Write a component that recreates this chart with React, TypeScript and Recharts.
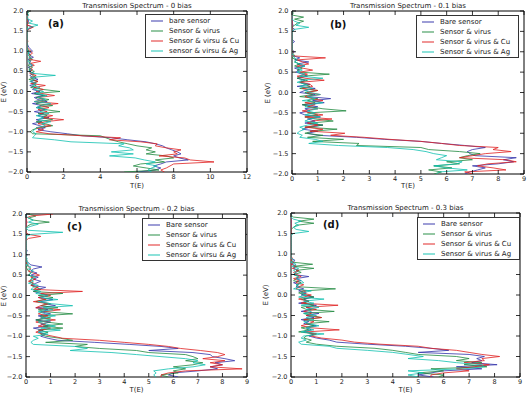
import React from 'react';
import { ScatterChart, Scatter, XAxis, YAxis, ReferenceArea } from 'recharts';

const energies = [
  2.0, 1.95, 1.9, 1.85, 1.8, 1.75, 1.7, 1.65, 1.6, 1.55,
  1.5, 1.45, 1.4, 1.35, 1.3, 1.25, 1.2, 1.15, 1.1, 1.05,
  1.0, 0.95, 0.9, 0.85, 0.8, 0.75, 0.7, 0.65, 0.6, 0.55,
  0.5, 0.45, 0.4, 0.35, 0.3, 0.25, 0.2, 0.15, 0.1, 0.05,
  0.0, -0.05, -0.1, -0.15, -0.2, -0.25, -0.3, -0.35, -0.4, -0.45,
  -0.5, -0.55, -0.6, -0.65, -0.7, -0.75, -0.8, -0.85, -0.9, -0.95,
  -1.0, -1.05, -1.1, -1.15, -1.2, -1.25, -1.3, -1.35, -1.4, -1.45,
  -1.5, -1.55, -1.6, -1.65, -1.7, -1.75, -1.8, -1.85, -1.9, -1.95,
  -2.0,
];

const energyTicks = [-2.0, -1.5, -1.0, -0.5, 0.0, 0.5, 1.0, 1.5, 2.0];
const tTicksA = [0, 2, 4, 6, 8, 10, 12];
const tTicksBCD = [0, 1, 2, 3, 4, 5, 6, 7, 8, 9];

// ---- Panel (a): 0 bias ----
const bareA = [
  0.05, 0, 0, 0, 0.05, 0.1, 0, 0, 0.3, 0.05,
  0, 0, 0, 0, 0, 0, 0, 0.05, 0.1, 0.2,
  0.3, 0.1, 0.15, 0.35, 0.05, 0.2, 0.1, 0.3, 0.05, 0.25,
  0.1, 0.4, 0.15, 0.3, 0.6, 0.2, 0.5, 0.15, 0.45, 0.3,
  0.7, 0.25, 0.9, 0.4, 0.6, 1.1, 0.3, 0.8, 0.5, 1.0,
  0.4, 0.9, 0.6, 1.2, 0.5, 0.8, 0.3, 0.7, 1.0, 0.6,
  1.3, 2.2, 3.0, 4.6, 5.5, 6.5, 7.0, 7.4, 7.6, 7.9,
  8.2, 8.4, 8.0, 8.3, 8.8, 7.6, 7.3, 6.9, 7.3, 7.0,
  6.0,
];
const virusA = [
  0.15, 0.05, 0, 0, 0, 0, 0, 0, 0, 0,
  0, 0, 0, 0, 0, 0, 0, 0, 0, 0.05,
  0.1, 0.05, 0.2, 0.1, 0.3, 0.1, 0.2, 0.05, 0.3, 0.1,
  0.4, 0.2, 0.3, 0.5, 0.1, 0.6, 0.3, 0.5, 0.2, 0.9,
  1.8, 0.4, 1.0, 0.5, 1.2, 0.8, 0.5, 1.4, 0.6, 1.0,
  1.8, 0.6, 1.1, 0.8, 1.4, 0.5, 1.0, 1.4, 0.7, 0.3,
  0.2, 0.3, 4.0, 4.3, 4.6, 5.0, 5.5, 6.0, 6.8, 6.5,
  7.0, 6.5, 7.6, 8.0, 7.0, 7.5, 6.2, 5.8, 6.5, 7.2,
  5.3,
];
const cuA = [
  0, 0, 0, 0.05, 0, 0, 0.1, 0, 0.35, 0.1,
  0, 0, 0, 0, 0, 0.05, 0, 0, 0, 0.1,
  0.2, 0.3, 0.1, 0.2, 0.1, 0.75, 0.2, 0.4, 0.1, 0.3,
  0.2, 0.15, 0.5, 0.2, 0.3, 0.6, 0.2, 1.0, 0.4, 0.9,
  0.5, 0.8, 1.5, 0.6, 0.9, 0.4, 1.7, 0.7, 1.2, 0.6,
  1.1, 0.7, 1.4, 0.9, 2.0, 1.0, 0.6, 1.3, 0.5, 0.9,
  0.5, 1.2, 3.0, 5.1, 4.5, 6.2, 7.1, 7.0, 7.6, 8.4,
  8.0, 8.2, 7.2, 8.6, 8.9, 10.2, 8.0, 7.8, 7.6, 7.3,
  7.5,
];
const agA = [
  0.05, 0, 0.1, 0, 0.05, 0.3, 0.1, 0.6, 0.2, 0,
  0, 0, 0, 0, 0, 0, 0, 0, 0, 0,
  0.05, 0.1, 0.05, 0.2, 0.1, 0.05, 0.15, 0.3, 0.1, 0.2,
  0.1, 0.3, 1.55, 0.2, 0.4, 0.15, 0.5, 0.3, 0.7, 0.4,
  0.9, 0.5, 1.1, 0.6, 1.0, 0.4, 1.3, 0.8, 0.5, 1.1,
  0.7, 1.2, 0.5, 0.9, 0.6, 1.3, 0.8, 1.0, 0.5, 0.4,
  0.3, 0.5, 0.4, 0.3, 1.5, 2.4, 5.3, 5.0, 5.6, 5.8,
  4.6, 5.8, 4.5, 5.9, 6.4, 7.0, 6.5, 7.1, 6.8, 6.6,
  6.8,
];

// ---- Panel (b): 0.1 bias ----
const bareB = [
  0, 0, 0, 0, 0, 0, 0, 0.05, 0, 0.1,
  0, 0, 0, 0, 0, 0.1, 0, 0, 0, 0,
  0.1, 0, 0.05, 0.3, 0.1, 0.65, 0.2, 0.5, 0.1, 0.3,
  0.15, 0.4, 0.6, 0.2, 0.5, 0.3, 0.7, 0.2, 0.9, 0.5,
  0.3, 0.9, 0.6, 1.5, 0.8, 1.25, 0.4, 1.0, 0.5, 0.7,
  0.3, 0.5, 1.1, 0.6, 0.9, 0.5, 1.2, 0.7, 0.4, 1.0,
  0.6, 1.0, 2.5, 3.6, 5.0, 5.8, 6.7, 7.5, 7.0, 6.8,
  6.9, 7.1, 8.7, 8.2, 8.6, 8.0, 7.0, 7.5, 7.2, 6.9,
  6.7,
];
const virusB = [
  0, 0.05, 0, 0.45, 0.1, 0.45, 0.2, 0.1, 0, 0,
  0, 0, 0, 0, 0, 0, 0, 0, 0, 0,
  0, 0.05, 0.1, 0, 0.2, 0.1, 0.3, 0.1, 0.4, 0.2,
  0.3, 1.45, 0.4, 0.2, 0.6, 0.3, 0.5, 0.7, 0.3, 1.0,
  0.5, 0.8, 0.3, 1.0, 0.6, 0.9, 0.4, 0.7, 1.2, 2.1,
  0.6, 1.0, 0.5, 0.9, 1.6, 0.7, 1.2, 0.5, 1.75, 0.8,
  0.5, 1.2, 0.6, 2.0, 0.8, 2.6, 2.5, 5.0, 5.3, 6.5,
  7.3, 6.8, 6.5, 7.0, 6.0, 6.5, 5.5, 6.2, 5.3, 5.8,
  5.5,
];
const cuB = [
  0, 0, 0, 0, 0, 0, 0, 0, 0, 0,
  0, 0, 0, 0, 0, 0, 0, 0, 0, 0,
  0.05, 0, 0, 1.3, 0.2, 0.4, 0.65, 0.2, 0.4, 0.8,
  0.3, 0.6, 0.2, 0.5, 1.25, 0.3, 0.7, 0.8, 0.4, 1.0,
  0.6, 1.1, 0.5, 0.8, 1.2, 0.5, 0.9, 0.6, 1.0, 0.4,
  0.7, 1.2, 0.5, 1.55, 0.8, 0.6, 1.0, 0.5, 1.2, 0.7,
  2.05, 1.5, 2.8, 3.8, 5.0, 5.8, 6.5, 8.0, 7.8, 8.5,
  7.5, 7.0, 6.5, 8.3, 8.7, 7.6, 7.2, 7.8, 8.3, 6.7,
  7.0,
];
const agB = [
  0, 0, 0, 0, 0, 0.1, 0.3, 0.15, 0.65, 0.1,
  0, 0, 0, 0, 0, 0, 0, 0, 0, 0,
  0, 0, 0.05, 0.1, 0.2, 0.1, 0.3, 0.5, 0.2, 0.4,
  0.2, 0.5, 0.3, 1.2, 0.4, 0.2, 0.6, 0.3, 0.8, 0.5,
  0.7, 1.1, 0.6, 0.9, 0.4, 1.2, 0.7, 0.5, 1.0, 0.6,
  0.9, 0.5, 1.1, 0.7, 0.5, 1.0, 0.6, 0.3, 0.5, 0.3,
  0.2, 0.4, 0.3, 0.9, 1.2, 0.65, 1.8, 3.7, 4.7, 5.2,
  5.5, 6.0, 5.8, 5.6, 6.6, 6.4, 5.5, 6.0, 6.8, 5.7,
  5.6,
];

// ---- Panel (c): 0.2 bias ----
const bareC = [
  0, 0, 0, 0, 0, 0, 0, 0, 0, 0,
  0, 0, 0, 0, 0, 0, 0, 0, 0.05, 0,
  0.05, 0, 0, 0, 0.1, 0.2, 0.65, 0.3, 0.2, 0.45,
  0.2, 0.5, 0.3, 0.6, 0.4, 0.2, 0.8, 0.5, 0.3, 0.6,
  0.9, 0.5, 1.1, 0.6, 0.8, 1.2, 0.4, 0.9, 0.6, 1.0,
  0.5, 0.8, 0.4, 1.0, 0.6, 0.9, 0.3, 0.7, 0.5, 0.8,
  0.6, 0.9, 1.3, 2.8, 4.2, 5.5, 6.2, 5.0, 6.8, 7.5,
  7.6, 8.1, 8.5, 7.7, 8.0, 7.5, 7.8, 7.0, 6.0, 5.8,
  6.2,
];
const virusC = [
  0.1, 0.4, 0.1, 0.3, 0.95, 0.2, 0.05, 0, 0, 0,
  0, 0, 0, 0, 0, 0, 0, 0, 0, 0,
  0, 0, 0, 0.05, 0, 0.1, 0, 0.05, 0.1, 0.2,
  0.1, 0.3, 0.2, 0.15, 0.3, 0.2, 0.4, 0.6, 0.3, 1.5,
  0.5, 1.1, 0.7, 0.4, 1.0, 0.6, 1.3, 0.5, 0.8, 1.9,
  0.6, 1.0, 0.4, 0.8, 1.5, 0.7, 1.5, 0.5, 0.9, 0.6,
  0.8, 1.4, 1.9, 0.8, 2.5, 2.0, 3.0, 4.5, 5.0, 6.5,
  6.8, 7.0, 6.5, 7.2, 6.8, 6.0, 6.5, 6.0, 6.2, 5.5,
  5.8,
];
const cuC = [
  1.1, 0.2, 0, 0, 0.05, 0, 0, 0, 0, 0,
  0.1, 0.6, 0.1, 0, 0, 0, 0, 0, 0, 0,
  0, 0, 0, 0, 0, 0.05, 0.1, 0.2, 0.1, 0.3,
  0.55, 0.2, 0.4, 0.1, 0.3, 0.2, 0.5, 0.3, 2.3, 0.6,
  1.0, 0.5, 0.8, 0.3, 0.9, 0.6, 0.4, 1.4, 0.7, 0.5,
  0.9, 0.6, 1.2, 0.4, 0.8, 0.5, 1.0, 0.6, 0.4, 0.7,
  1.1, 1.5, 3.0, 4.0, 5.0, 5.8, 6.3, 7.1, 7.8, 8.1,
  7.8, 7.2, 8.1, 7.5, 8.0, 7.5, 8.8, 6.5, 5.8, 5.5,
  5.5,
];
const agC = [
  0, 0, 0.1, 0.3, 0.1, 0.5, 0.2, 0, 0.1, 1.5,
  0.2, 0, 0, 0, 0, 0, 0, 0, 0, 0,
  0, 0, 0.05, 0, 0.1, 0, 0.2, 0.1, 0.3, 0.2,
  0.1, 0.4, 0.2, 0.3, 0.1, 0.5, 0.3, 0.2, 0.6, 0.4,
  0.9, 0.6, 1.3, 0.5, 1.0, 1.9, 0.7, 1.1, 0.5, 0.8,
  1.2, 0.6, 1.0, 0.5, 0.8, 1.2, 0.6, 1.4, 0.5, 0.9,
  0.3, 0.5, 0.3, 0.2, 0.3, 2.0, 2.5, 1.8, 3.5, 4.5,
  5.5, 6.5, 7.0, 6.8, 7.3, 6.8, 5.8, 5.2, 5.3, 5.2,
  5.3,
];

// ---- Panel (d): 0.3 bias ----
const bareD = [
  0.05, 0, 0, 0, 0, 0, 0, 0, 0, 0,
  0, 0, 0, 0, 0, 0, 0, 0, 0, 0,
  0, 0, 0, 0.15, 0.1, 0.05, 0.2, 0.1, 0.3, 0.2,
  0.1, 0.7, 0.2, 0.4, 0.1, 0.3, 0.2, 0.5, 0.3, 0.6,
  0.4, 0.9, 0.5, 0.7, 0.3, 1.0, 0.6, 0.8, 0.4, 1.1,
  0.6, 0.9, 0.4, 0.7, 0.5, 1.0, 0.6, 0.8, 0.5, 0.9,
  0.7, 1.0, 1.5, 1.8, 3.0, 4.5, 5.5, 6.2, 5.0, 7.0,
  7.6, 7.3, 7.5, 7.1, 8.1, 6.5, 7.5, 6.0, 5.5, 5.0,
  5.6,
];
const virusD = [
  0, 0, 0.1, 0.9, 0.3, 0.9, 0.2, 0.1, 0, 0,
  0, 0, 0, 0, 0, 0, 0, 0, 0, 0,
  0, 0, 0, 0, 0.05, 0.85, 0.1, 0.9, 0.2, 0.4,
  0.1, 0.3, 0.2, 0.1, 0.4, 0.2, 0.3, 1.75, 0.5, 0.3,
  0.6, 0.9, 0.4, 0.7, 0.5, 0.9, 0.4, 0.6, 1.7, 0.5,
  0.8, 1.2, 0.5, 1.5, 0.6, 0.9, 0.4, 0.7, 0.3, 1.0,
  0.6, 0.5, 0.8, 0.6, 1.0, 1.8, 3.3, 4.0, 4.5, 5.0,
  6.5, 7.0, 6.5, 7.5, 6.8, 7.7, 5.5, 6.0, 5.0, 6.0,
  5.8,
];
const cuD = [
  0, 0, 0, 0, 0, 0, 0, 0, 0, 0,
  0, 0, 0, 0, 0, 0, 0, 0, 0, 0,
  0, 0, 0.05, 0, 0.1, 0, 0.2, 0.05, 0.3, 0.1,
  0.2, 0.4, 0.1, 0.3, 0.2, 0.5, 0.3, 0.2, 0.6, 0.4,
  0.8, 0.5, 0.3, 0.7, 0.4, 1.85, 0.6, 1.0, 0.5, 0.8,
  0.6, 1.2, 0.5, 0.9, 0.7, 0.4, 0.8, 1.9, 0.6, 1.0,
  0.8, 1.2, 2.0, 2.5, 3.5, 5.0, 5.5, 6.5, 7.0, 7.5,
  8.2, 7.5, 7.6, 6.8, 7.8, 7.2, 6.5, 7.0, 6.0, 5.5,
  5.5,
];
const agD = [
  0, 0, 0, 0.1, 0.4, 0.15, 0.3, 0.1, 0.2, 0.7,
  0.1, 0, 0, 0, 0, 0, 0, 0, 0, 0,
  0, 0, 0, 0.1, 0, 0.2, 0.05, 0.3, 0.1, 0.2,
  0.1, 0.3, 0.2, 0.4, 0.5, 0.2, 0.3, 0.1, 0.8, 0.4,
  0.6, 0.3, 1.3, 0.5, 0.9, 0.4, 1.1, 0.6, 0.8, 0.5,
  1.0, 0.6, 0.9, 0.5, 0.7, 1.1, 0.6, 0.9, 0.4, 1.3,
  0.5, 0.4, 0.6, 0.3, 0.4, 1.5, 1.8, 3.0, 4.0, 4.6,
  5.2, 4.6, 5.8, 6.5, 7.5, 7.6, 6.8, 4.6, 5.2, 4.6,
  5.0,
];

const legendA = ['bare sensor', 'Sensor & virus', 'Sensor & virsu & Cu', 'sensor & virsu & Ag'];
const legendB = ['Bare sensor', 'Sensor & virus', 'Sensor & virus & Cu', 'Sensor & virus & Ag'];
const legendC = ['Bare sensor', 'Sensor & virus', 'Sensor & virus & Cu', 'Sensor & virsu & Ag'];
const legendD = ['Bare sensor', 'Sensor & virus', 'Sensor & virus & Cu', 'Sensor & virus & Ag'];

const titles = [
  'Transmission Spectrum - 0 bias',
  'Transmission Spectrum - 0.1 bias',
  'Transmission Spectrum - 0.2 bias',
  'Transmission Spectrum - 0.3 bias',
];
const letters = ['(a)', '(b)', '(c)', '(d)'];

const COLORS = ['#3333aa', '#208a40', '#e02020', '#10c0b0'];
const FONT = '"DejaVu Sans", "Liberation Sans", sans-serif';

const PAD_L = 30;
const PAD_T = 5;
const PAD_R = 5;
const PAD_B = 16;

type Box = { x0: number; y0: number; x1: number; y1: number };

function fmtE(v: number) {
  return v.toFixed(1).replace('-', '\u2212');
}

function XTick(props: any) {
  const { x, payload, top, bottom } = props;
  return (
    <g>
      <line x1={x} x2={x} y1={bottom} y2={bottom - 4} stroke="#000" strokeWidth={0.8} />
      <line x1={x} x2={x} y1={top} y2={top + 4} stroke="#000" strokeWidth={0.8} />
      <text x={x} y={bottom + 5} textAnchor="middle" dominantBaseline="central" fontSize={6.5} fill="#222" fontFamily={FONT}>
        {payload.value}
      </text>
    </g>
  );
}

function YTick(props: any) {
  const { y, payload, left, right } = props;
  return (
    <g>
      <line x1={left} x2={left + 4} y1={y} y2={y} stroke="#000" strokeWidth={0.8} />
      <line x1={right} x2={right - 4} y1={y} y2={y} stroke="#000" strokeWidth={0.8} />
      <text x={left - 3.5} y={y} textAnchor="end" dominantBaseline="central" fontSize={6.5} fill="#222" fontFamily={FONT}>
        {fmtE(payload.value)}
      </text>
    </g>
  );
}

type PanelProps = {
  box: Box;
  xMax: number;
  xTicks: number[];
  series: number[][];
  legend: string[];
  title: string;
  titleY: number;
  letter: string;
  letterX: number;
  letterY: number;
  legendBox: { left: number; top: number; width: number; height: number };
  xLabelY: number;
  yLabelX: number;
};

function Panel(p: PanelProps) {
  const { box } = p;
  const pw = box.x1 - box.x0;
  const ph = box.y1 - box.y0;
  const cw = pw + PAD_L + PAD_R;
  const ch = ph + PAD_T + PAD_B;
  const localTop = PAD_T;
  const localBottom = PAD_T + ph;
  const localLeft = PAD_L;
  const localRight = PAD_L + pw;
  const datasets = p.series.map((arr) => energies.map((e, i) => ({ t: arr[i], e })));
  return (
    <>
      <div style={{ position: 'absolute', left: box.x0 - PAD_L, top: box.y0 - PAD_T, width: cw, height: ch }}>
        <ScatterChart width={cw} height={ch} margin={{ top: PAD_T, right: PAD_R, bottom: 0, left: 0 }}>
          <XAxis
            type="number"
            dataKey="t"
            domain={[0, p.xMax]}
            ticks={p.xTicks}
            allowDataOverflow
            axisLine={false}
            tickLine={false}
            height={PAD_B}
            interval={0}
            tick={<XTick top={localTop} bottom={localBottom} />}
          />
          <YAxis
            type="number"
            dataKey="e"
            domain={[-2, 2]}
            ticks={energyTicks}
            allowDataOverflow
            axisLine={false}
            tickLine={false}
            width={PAD_L}
            interval={0}
            tick={<YTick left={localLeft} right={localRight} />}
          />
          {datasets.map((d, i) => (
            <Scatter
              key={i}
              data={d}
              line={{ stroke: COLORS[i], strokeWidth: 1, strokeOpacity: 0.8 }}
              fill="none"
              shape={() => <g />}
              isAnimationActive={false}
            />
          ))}
          <ReferenceArea x1={0} x2={p.xMax} y1={-2} y2={2} fill="none" stroke="#000" strokeWidth={1} ifOverflow="visible" />
        </ScatterChart>
      </div>
      <div
        style={{
          position: 'absolute', left: box.x0, width: pw, top: p.titleY - 5, height: 10,
          textAlign: 'center', fontSize: 7, lineHeight: '10px', fontFamily: FONT, color: '#222', whiteSpace: 'nowrap',
        }}
      >
        {p.title}
      </div>
      <div
        style={{
          position: 'absolute', left: p.letterX, top: p.letterY - 7, height: 14,
          fontSize: 10, lineHeight: '14px', fontWeight: 'bold', fontFamily: FONT, color: '#111',
        }}
      >
        {p.letter}
      </div>
      <div
        style={{
          position: 'absolute', left: box.x0, width: pw, top: p.xLabelY - 5, height: 10,
          textAlign: 'center', fontSize: 7, lineHeight: '10px', fontFamily: FONT, color: '#222',
        }}
      >
        T(E)
      </div>
      <div
        style={{
          position: 'absolute', left: p.yLabelX - 20, top: (box.y0 + box.y1) / 2 - 5, width: 40, height: 10,
          textAlign: 'center', fontSize: 7, lineHeight: '10px', fontFamily: FONT, color: '#222',
          transform: 'rotate(-90deg)', whiteSpace: 'nowrap',
        }}
      >
        E (eV)
      </div>
      <div
        style={{
          position: 'absolute', left: p.legendBox.left, top: p.legendBox.top,
          width: p.legendBox.width, height: p.legendBox.height, boxSizing: 'border-box',
          border: '1px solid #333', background: '#fff',
        }}
      >
        {p.legend.map((name, i) => (
          <div key={i} style={{ position: 'absolute', left: 0, top: 5.5 + i * 10.3 - 5, height: 10, width: '100%' }}>
            <svg width={14} height={10} style={{ position: 'absolute', left: 5, top: 0 }}>
              <line x1={0} x2={12} y1={5} y2={5} stroke={COLORS[i]} strokeOpacity={0.8} strokeWidth={1.2} />
            </svg>
            <span
              style={{
                position: 'absolute', left: 23, top: 0, fontSize: 7, lineHeight: '10px',
                fontFamily: FONT, color: '#222', whiteSpace: 'nowrap',
              }}
            >
              {name}
            </span>
          </div>
        ))}
      </div>
    </>
  );
}

export default function App() {
  return (
    <div style={{ position: 'absolute', left: 0, top: 0, width: 527, height: 396, overflow: 'hidden', background: '#fff' }}>
      <Panel
        box={{ x0: 27, y0: 11, x1: 247, y1: 172 }}
        xMax={12}
        xTicks={tTicksA}
        series={[bareA, virusA, cuA, agA]}
        legend={legendA}
        title={titles[0]}
        titleY={6}
        letter={letters[0]}
        letterX={48}
        letterY={24}
        legendBox={{ left: 145, top: 14, width: 101, height: 44 }}
        xLabelY={186}
        yLabelX={4}
      />
      <Panel
        box={{ x0: 292, y0: 11, x1: 524, y1: 174 }}
        xMax={9}
        xTicks={tTicksBCD}
        series={[bareB, virusB, cuB, agB]}
        legend={legendB}
        title={titles[1]}
        titleY={6}
        letter={letters[1]}
        letterX={330}
        letterY={25}
        legendBox={{ left: 416, top: 15, width: 103, height: 43 }}
        xLabelY={186}
        yLabelX={268}
      />
      <Panel
        box={{ x0: 26, y0: 214, x1: 247, y1: 377 }}
        xMax={9}
        xTicks={tTicksBCD}
        series={[bareC, virusC, cuC, agC]}
        legend={legendC}
        title={titles[2]}
        titleY={208.5}
        letter={letters[2]}
        letterX={67}
        letterY={227}
        legendBox={{ left: 142, top: 218, width: 104, height: 43 }}
        xLabelY={390}
        yLabelX={4}
      />
      <Panel
        box={{ x0: 291, y0: 213, x1: 520, y1: 377 }}
        xMax={9}
        xTicks={tTicksBCD}
        series={[bareD, virusD, cuD, agD]}
        legend={legendD}
        title={titles[3]}
        titleY={208}
        letter={letters[3]}
        letterX={323}
        letterY={225}
        legendBox={{ left: 417, top: 217, width: 103, height: 43 }}
        xLabelY={390}
        yLabelX={266}
      />
    </div>
  );
}
